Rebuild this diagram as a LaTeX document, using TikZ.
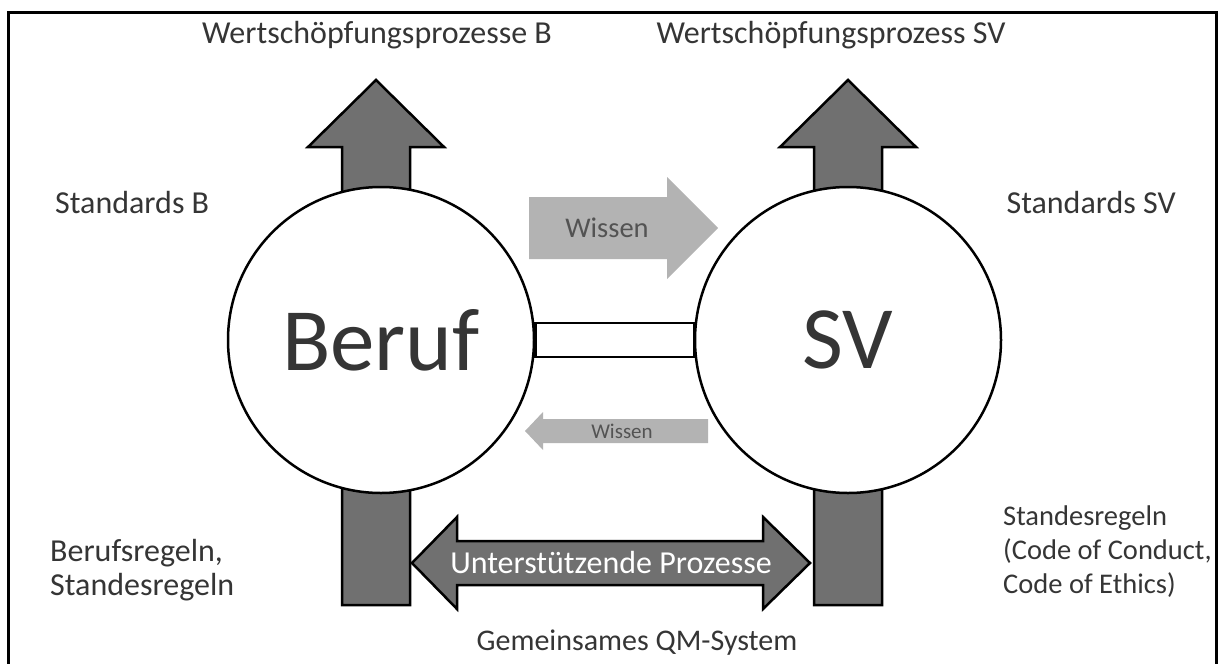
\documentclass[tikz,border=0pt]{standalone}
\usepackage{fontspec}
\setmainfont{Carlito}
\usetikzlibrary{calc}
\definecolor{textgray}{HTML}{353535}
\definecolor{darkfill}{HTML}{707070}
\definecolor{lightfill}{HTML}{B3B3B3}

\begin{document}
\begin{tikzpicture}[x=1pt, y=-1pt,
	txt/.style={text=textgray, font=\fontsize{32}{34}\selectfont, inner sep=0pt},
	bigcirc/.style={circle, draw, line width=2.5pt, fill=white, minimum size=306pt, inner sep=0pt, text=textgray, font=\fontsize{89}{89}\selectfont},
	blockarrow/.style={draw, line width=2.5pt, fill=darkfill, line join=miter},
	wissen/.style={fill=lightfill}]
	\useasboundingbox (0,0) rectangle (1221,664);
	\draw[line width=3pt] (8,666) -- (8,12) -- (1216,12) -- (1216,666);
	% value chain arrows behind the circles
	\foreach \c in {376,848}
		\draw[blockarrow] (\c-34,605) -- (\c-34,147) -- (\c-68,147) -- (\c,80) -- (\c+68,147) -- (\c+34,147) -- (\c+34,605) -- cycle;
	\node[bigcirc] (beruf) at (381,340) {Beruf};
	\node[bigcirc] (sv) at (848,340) {SV};
	\draw[line width=2.5pt, fill=white] ($(beruf.east)+(0,-17)$) rectangle ($(sv.west)+(0,17)$);
	% knowledge transfer
	\fill[wissen] (529,197) -- (667,197) -- (667,177) -- (718,228) -- (667,279) -- (667,259) -- (529,259) -- cycle;
	\node[txt, text=textgray!85, font=\fontsize{28.5}{28.5}\selectfont] (wissenA) at (607,228) {Wissen};
	\fill[wissen] (708,419) -- (543,419) -- (543,412) -- (525,431) -- (543,450) -- (543,443) -- (708,443) -- cycle;
	\node[txt, text=textgray!85, font=\fontsize{21}{21}\selectfont] (wissenB) at (622,431) {Wissen};
	% supporting processes
	\draw[blockarrow] (412,563) -- (457,517) -- (457,541) -- (763,541) -- (763,517) -- (810,563) -- (763,609) -- (763,585) -- (457,585) -- (457,609) -- cycle;
	\node[txt, text=white] (prozesse) at (611,563) {Unterstützende Prozesse};
	\node[txt] (wsB) at (377,35) {Wertschöpfungsprozesse B};
	\node[txt] (wsSV) at (831,35) {Wertschöpfungsprozess SV};
	\node[txt, anchor=west] (stdB) at (55,203) {Standards B};
	\node[txt, anchor=east] (stdSV) at (1176,203) {Standards SV};
	\node[txt, anchor=west, align=left] (regelnB) at (50,570) {Berufsregeln,\\Standesregeln};
	\node[txt, anchor=west, align=left, font=\fontsize{28.5}{34}\selectfont] (regelnSV) at (1003,552) {Standesregeln\\(Code of Conduct,\\Code of Ethics)};
	\node[txt, font=\fontsize{30}{34}\selectfont] (qm) at (637,643) {Gemeinsames QM-System};
\end{tikzpicture}
\end{document}
